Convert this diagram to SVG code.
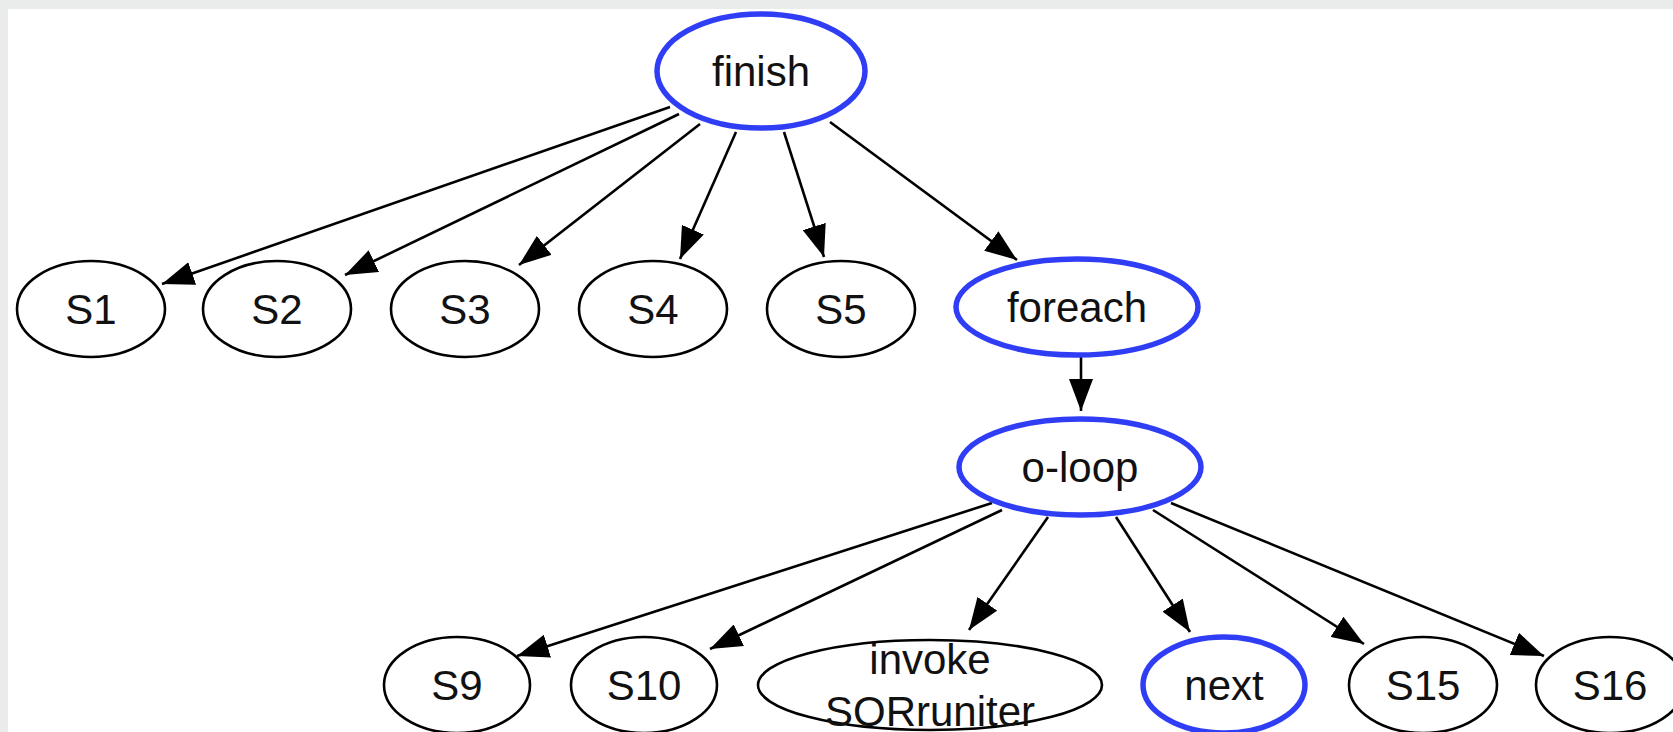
<svg xmlns="http://www.w3.org/2000/svg" width="1673" height="732" viewBox="0 0 1673 732">
  <style>
    .node ellipse { fill: #ffffff; stroke: #000000; stroke-width: 2.6; }
    .node.hl ellipse { stroke: #2f3df5; stroke-width: 5.5; }
    .node text { font-family: "Liberation Sans", Arial, sans-serif; font-size: 42px; fill: #111111; text-anchor: middle; }
    #edges line { stroke: #000000; stroke-width: 2.6; marker-end: url(#arrow); }
  </style>
  <defs>
    <marker id="arrow" markerUnits="userSpaceOnUse" viewBox="0 0 32 24" refX="32" refY="12" markerWidth="32" markerHeight="24" orient="auto">
      <path d="M0,0 L32,12 L0,24 Z" fill="#000000"/>
    </marker>
  </defs>

  <!-- canvas -->
  <rect x="0" y="0" width="1673" height="732" fill="#eaecec"/>
  <rect x="8" y="9" width="1665" height="723" fill="#ffffff"/>

  <g id="edges">
    <line x1="670" y1="107" x2="162" y2="284"/>
    <line x1="679" y1="114" x2="345" y2="275"/>
    <line x1="700" y1="124" x2="519" y2="265"/>
    <line x1="736" y1="132" x2="680" y2="259"/>
    <line x1="784" y1="132" x2="824" y2="257"/>
    <line x1="830" y1="122" x2="1017" y2="260"/>
    <line x1="1081" y1="357" x2="1081" y2="411"/>
    <line x1="992" y1="503" x2="517" y2="656"/>
    <line x1="1002" y1="510" x2="710" y2="649"/>
    <line x1="1048" y1="517" x2="969" y2="630"/>
    <line x1="1116" y1="517" x2="1190" y2="632"/>
    <line x1="1153" y1="510" x2="1364" y2="644"/>
    <line x1="1171" y1="503" x2="1544" y2="656"/>
  </g>

  <g id="finish" class="node hl">
    <ellipse cx="761" cy="71" rx="104" ry="57"/>
    <text x="761" y="86">finish</text>
  </g>
  <g id="S1" class="node">
    <ellipse cx="91" cy="309" rx="74" ry="48"/>
    <text x="91" y="324">S1</text>
  </g>
  <g id="S2" class="node">
    <ellipse cx="277" cy="309" rx="74" ry="48"/>
    <text x="277" y="324">S2</text>
  </g>
  <g id="S3" class="node">
    <ellipse cx="465" cy="309" rx="74" ry="48"/>
    <text x="465" y="324">S3</text>
  </g>
  <g id="S4" class="node">
    <ellipse cx="653" cy="309" rx="74" ry="48"/>
    <text x="653" y="324">S4</text>
  </g>
  <g id="S5" class="node">
    <ellipse cx="841" cy="309" rx="74" ry="48"/>
    <text x="841" y="324">S5</text>
  </g>
  <g id="foreach" class="node hl">
    <ellipse cx="1077" cy="307" rx="121" ry="48"/>
    <text x="1077" y="322">foreach</text>
  </g>
  <g id="o-loop" class="node hl">
    <ellipse cx="1080" cy="467" rx="121" ry="48"/>
    <text x="1080" y="482">o-loop</text>
  </g>
  <g id="S9" class="node">
    <ellipse cx="457" cy="685" rx="73" ry="48"/>
    <text x="457" y="700">S9</text>
  </g>
  <g id="S10" class="node">
    <ellipse cx="644" cy="685" rx="73" ry="48"/>
    <text x="644" y="700">S10</text>
  </g>
  <g id="invoke" class="node">
    <ellipse cx="930" cy="685" rx="172" ry="45"/>
    <text x="930" y="674">invoke</text>
    <text x="930" y="726">SORruniter</text>
  </g>
  <g id="next" class="node hl">
    <ellipse cx="1224" cy="685" rx="81" ry="48"/>
    <text x="1224" y="700">next</text>
  </g>
  <g id="S15" class="node">
    <ellipse cx="1423" cy="685" rx="74" ry="48"/>
    <text x="1423" y="700">S15</text>
  </g>
  <g id="S16" class="node">
    <ellipse cx="1610" cy="685" rx="74" ry="48"/>
    <text x="1610" y="700">S16</text>
  </g>
</svg>
